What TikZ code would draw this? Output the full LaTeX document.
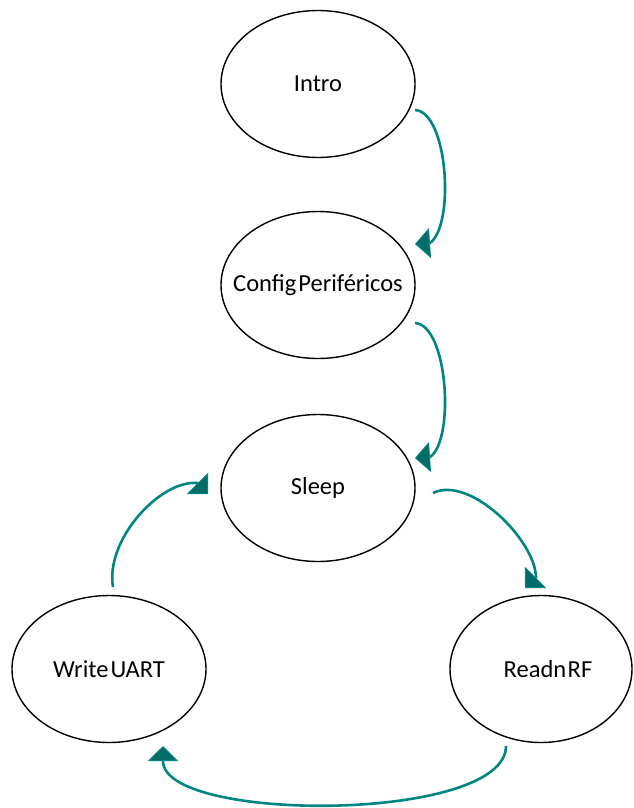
\documentclass[tikz,border=0pt]{standalone}
\usepackage{fontspec}
\setmainfont{Carlito}
\usetikzlibrary{arrows.meta,shapes.geometric}
\definecolor{linkteal}{RGB}{0,134,130}
\definecolor{tipteal}{RGB}{0,108,104}
\newcommand{\statetext}[1]{\makebox[0pt]{#1}}
\tikzset{
  state/.style={ellipse, draw=black, line width=1.4pt, inner sep=0pt,
    minimum width=194pt, minimum height=147pt, font=\fontsize{24.5pt}{28pt}\selectfont},
  link/.style={draw=linkteal, line width=2.6pt,
    -{Triangle[length=15pt, width=30pt, fill=tipteal, line width=0.8pt]}}
}
\begin{document}
\begin{tikzpicture}[x=1pt, y=-1pt]
\useasboundingbox (0,0) rectangle (633,808);
\node[state] (intro)  at (318,84)  {\statetext{Intro}};
\node[state] (config) at (318,285) {\statetext{Config\hspace{2pt}Periféricos}};
\node[state] (sleep)  at (318,488) {\statetext{Sleep}};
\node[state] (write)  at (109,669) {\statetext{Write\hspace{2pt}UART}};
\node[state, minimum width=182pt] (read) at (541,669) {\statetext{\hspace*{14pt}Readn\hspace{1.5pt}RF}};

% Intro -> ConfigPerifericos
\draw[link] ([shift={(97,26)}]intro.center)
  .. controls ([shift={(130,28)}]intro.center) and ([shift={(137,-60)}]config.center)
  .. ([shift={(112,-42)}]config.center) -- ([shift={(97,-41)}]config.center);
% ConfigPerifericos -> Sleep
\draw[link] ([shift={(97,38)}]config.center)
  .. controls ([shift={(130,40)}]config.center) and ([shift={(137,-48)}]sleep.center)
  .. ([shift={(112,-31)}]sleep.center) -- ([shift={(97,-30)}]sleep.center);
% Sleep -> ReadnRF
\draw[link] ([shift={(115,5)}]sleep.center)
  .. controls ([shift={(152,-13)}]sleep.center) and ([shift={(-6,-129)}]read.center)
  .. ([shift={(-5,-92)}]read.center) -- ([shift={(-16,-81)}]read.center);
% ReadnRF -> WriteUART
\draw[link] ([shift={(-35,77)}]read.center)
  .. controls ([shift={(-35,154)}]read.center) and ([shift={(54,154)}]write.center)
  .. ([shift={(54,92)}]write.center) -- ([shift={(54,77)}]write.center);
% WriteUART -> Sleep
\draw[link] ([shift={(4,-82)}]write.center)
  .. controls ([shift={(-4,-129)}]write.center) and ([shift={(-158,-8)}]sleep.center)
  .. ([shift={(-121,-5)}]sleep.center) -- ([shift={(-110,6)}]sleep.center);
\end{tikzpicture}
\end{document}
